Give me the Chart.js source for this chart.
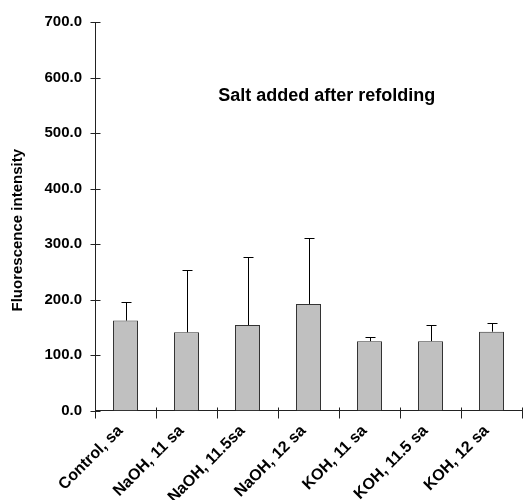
<!DOCTYPE html>
<html>
<head>
<meta charset="utf-8">
<script src="https://cdn.jsdelivr.net/npm/chart.js@4"></script>
<style>
  html, body { margin: 0; padding: 0; background: #fff; }
  #wrap { width: 523px; height: 500px; }
</style>
</head>
<body>
<div id="wrap"><canvas id="saltChart"></canvas></div>
<script>
const categories = ["Control, sa", "NaOH, 11 sa", "NaOH, 11.5sa", "NaOH, 12 sa", "KOH, 11 sa", "KOH, 11.5 sa", "KOH, 12 sa"];
const meanValues = [162, 141, 154, 192, 125, 125, 142];
const errorValues = [33, 112, 122, 119, 7, 29, 15];
const yTicks = [0, 100, 200, 300, 400, 500, 600, 700];

const FONT = "'Liberation Sans', Arial, Helvetica, sans-serif";
const AXIS = "#222";

// error bars, crossing tick marks and the two free texts
const extras = {
  id: "extras",
  afterDatasetsDraw(chart) {
    const { ctx, chartArea } = chart;
    const x = chart.scales.x;
    const y = chart.scales.y;
    ctx.save();
    ctx.strokeStyle = "#000";
    ctx.lineWidth = 1;

    meanValues.forEach((v, i) => {
      const cx = Math.round(x.getPixelForValue(i)) + 0.5;
      const y0 = y.getPixelForValue(v);
      const y1 = Math.round(y.getPixelForValue(v + errorValues[i])) + 0.5;
      ctx.beginPath();
      ctx.moveTo(cx, y0);
      ctx.lineTo(cx, y1);
      ctx.moveTo(cx - 5, y1);
      ctx.lineTo(cx + 5, y1);
      ctx.stroke();
    });

    ctx.strokeStyle = AXIS;
    const ax = Math.round(chartArea.left) + 0.5;
    yTicks.forEach((t) => {
      const py = Math.round(y.getPixelForValue(t)) + 0.5;
      ctx.beginPath();
      ctx.moveTo(ax - 5, py);
      ctx.lineTo(ax + 5, py);
      ctx.stroke();
    });
    const ay = Math.round(chartArea.bottom) + 0.5;
    for (let i = 0; i <= categories.length; i++) {
      const px = Math.round(x.getPixelForValue(i - 0.5)) + 0.5;
      ctx.beginPath();
      ctx.moveTo(px, ay - 4);
      ctx.lineTo(px, ay + 7);
      ctx.stroke();
    }

    ctx.fillStyle = "#000";
    ctx.textAlign = "center";
    ctx.textBaseline = "middle";
    ctx.font = "bold 18px " + FONT;
    ctx.fillText("Salt added after refolding", x.getPixelForValue(3.3), y.getPixelForValue(566));

    ctx.font = "bold 15px " + FONT;
    ctx.translate(18, (chartArea.top + chartArea.bottom) / 2 + 14);
    ctx.rotate(-Math.PI / 2);
    ctx.fillText("Fluorescence intensity", 0, 0);
    ctx.restore();
  },
};

new Chart(document.getElementById("saltChart"), {
  type: "bar",
  data: {
    labels: categories,
    datasets: [
      {
        data: meanValues,
        backgroundColor: "#c0c0c0",
        borderColor: "#333",
        borderWidth: 1,
        borderSkipped: "bottom",
        barPercentage: 0.41,
        categoryPercentage: 1,
      },
    ],
  },
  options: {
    responsive: true,
    maintainAspectRatio: false,
    animation: false,
    layout: { padding: { top: 20, right: 1, left: 0, bottom: 0 } },
    plugins: {
      legend: { display: false },
      tooltip: { enabled: false },
    },
    scales: {
      x: {
        offset: true,
        grid: { display: false, drawTicks: false },
        border: { display: true, color: AXIS, width: 1 },
        ticks: {
          color: "#000",
          font: { family: FONT, size: 16, weight: "bold" },
          maxRotation: 45,
          minRotation: 45,
          autoSkip: false,
          padding: 11,
          labelOffset: -5,
        },
        afterFit(scale) { scale.height = 89.5; },
      },
      y: {
        min: 0,
        max: 700,
        afterBuildTicks(scale) { scale.ticks = yTicks.map((v) => ({ value: v })); },
        grid: { display: false, drawTicks: false },
        border: { display: true, color: AXIS, width: 1 },
        ticks: {
          color: "#000",
          font: { family: FONT, size: 15, weight: "bold" },
          padding: 13,
          callback: (v) => Number(v).toFixed(1),
        },
        afterFit(scale) { scale.width = 95; },
      },
    },
  },
  plugins: [extras],
});
</script>
</body>
</html>
